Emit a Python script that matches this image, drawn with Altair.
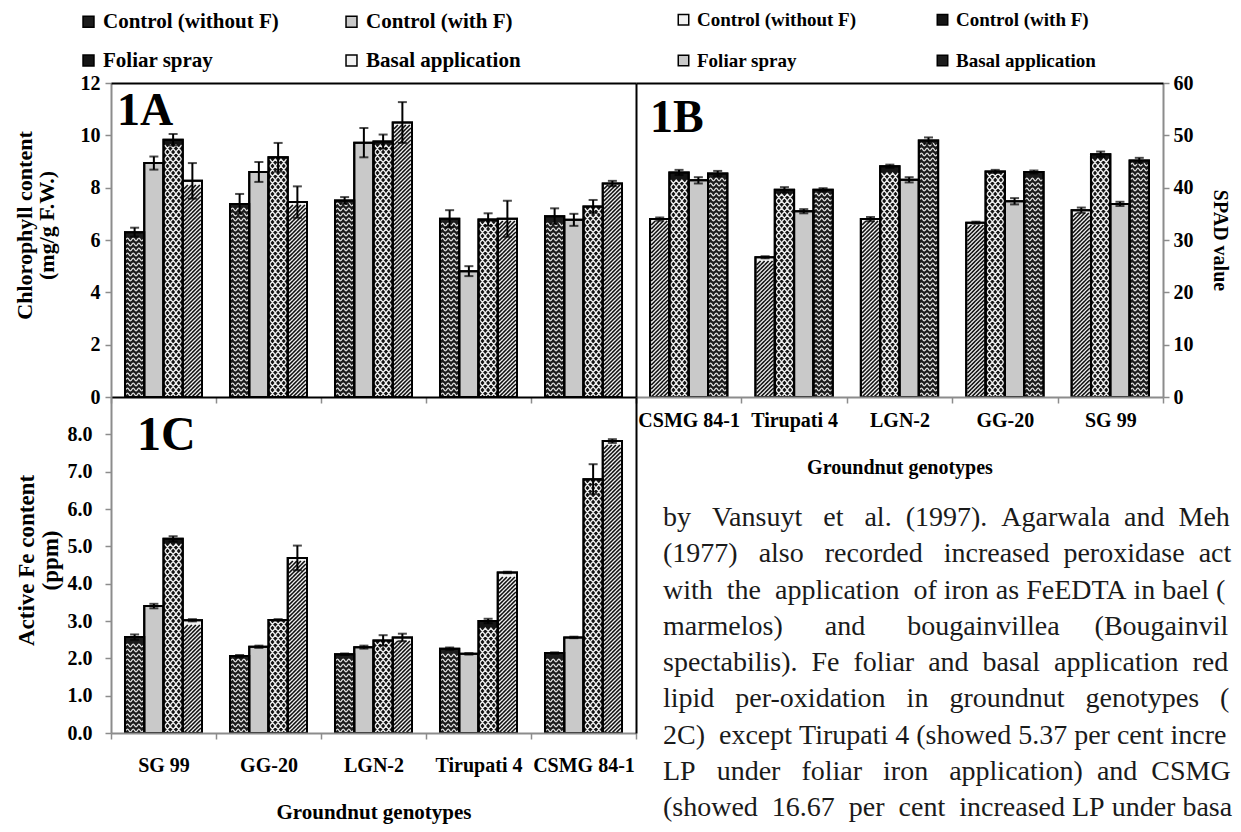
import altair as alt
import pandas as pd

# ---------------- data ----------------
genotypes_ac = ["SG 99", "GG-20", "LGN-2", "Tirupati 4", "CSMG 84-1"]
genotypes_b = ["CSMG 84-1", "Tirupati 4", "LGN-2", "GG-20", "SG 99"]
treatments = ["Control (without F)", "Control (with F)", "Foliar spray", "Basal application"]

# 1A chlorophyll content (mg/g F.W.), order = genotypes_ac
chl_ctrl_wo = [6.30, 7.38, 7.51, 6.81, 6.91]
chl_ctrl_w = [8.94, 8.60, 9.72, 4.81, 6.77]
chl_foliar = [9.83, 9.16, 9.76, 6.78, 7.28]
chl_basal = [8.26, 7.45, 10.49, 6.81, 8.16]
chl_ctrl_wo_err = [0.17, 0.38, 0.13, 0.33, 0.30]
chl_ctrl_w_err = [0.25, 0.38, 0.56, 0.19, 0.23]
chl_foliar_err = [0.22, 0.55, 0.27, 0.24, 0.25]
chl_basal_err = [0.68, 0.60, 0.78, 0.69, 0.10]

# 1B SPAD value, order = genotypes_b
spad_ctrl_wo = [34.0, 26.7, 34.0, 33.3, 35.7]
spad_ctrl_w = [42.9, 39.6, 44.1, 43.1, 46.4]
spad_foliar = [41.4, 35.5, 41.5, 37.4, 36.9]
spad_basal = [42.7, 39.6, 49.0, 43.0, 45.2]
spad_ctrl_wo_err = [0.3, 0.2, 0.4, 0.2, 0.5]
spad_ctrl_w_err = [0.5, 0.5, 0.3, 0.3, 0.5]
spad_foliar_err = [0.6, 0.4, 0.5, 0.6, 0.4]
spad_basal_err = [0.5, 0.3, 0.6, 0.3, 0.5]

# 1C active Fe content (ppm), order = genotypes_ac
fe_ctrl_wo = [2.57, 2.06, 2.11, 2.26, 2.14]
fe_ctrl_w = [3.40, 2.31, 2.30, 2.12, 2.56]
fe_foliar = [5.20, 3.03, 2.48, 3.00, 6.80]
fe_basal = [3.02, 4.69, 2.56, 4.30, 7.82]
fe_ctrl_wo_err = [0.07, 0.03, 0.02, 0.03, 0.02]
fe_ctrl_w_err = [0.06, 0.03, 0.04, 0.02, 0.02]
fe_foliar_err = [0.07, 0.02, 0.14, 0.06, 0.40]
fe_basal_err = [0.03, 0.33, 0.10, 0.02, 0.05]

tick_a = [0, 2, 4, 6, 8, 10, 12]
tick_b = [0, 10, 20, 30, 40, 50, 60]
tick_c = [0, 1, 2, 3, 4, 5, 6, 7, 8]

panel_labels = ["1A", "1B", "1C"]

paragraph = [
    "by Vansuyt et al. (1997). Agarwala and Meh",
    "(1977) also recorded increased peroxidase act",
    "with the application of iron as FeEDTA in bael (",
    "marmelos) and bougainvillea (Bougainvil",
    "spectabilis). Fe foliar and basal application red",
    "lipid per-oxidation in groundnut genotypes (",
    "2C) except Tirupati 4 (showed 5.37 per cent incre",
    "LP under foliar iron application) and CSMG",
    "(showed 16.67 per cent increased LP under basa",
]

# ---------------- styling ----------------
FONT = "Liberation Serif"
W, H = 1225, 816
GRAY = "#8c8c8c"

# hatch fills: each bar is tiled with rows of a custom symbol that spans the bar width
S = 17.0          # symbol side in px (inner bar width)
U = S / 2.0       # px per symbol unit


def wave_path(amp_px=1.4):
    c = 2 * amp_px / U
    return ("M-1,0 Q-0.8333,%.3f -0.6667,0 T-0.3333,0 T0,0 T0.3333,0 T0.6667,0 T1,0" % (-c))


def cross_path(row_px):
    a = row_px / 2 / U
    return ("M-1,{a}L-0.3333,-{a}L0.3333,{a}L1,-{a}"
            "M-1,-{a}L-0.3333,{a}L0.3333,-{a}L1,{a}").format(a="%.4f" % a)


def diag_path(row_px, gap_px):
    a = row_px / 2 / U
    p = gap_px / U
    parts = []
    x0 = -1 - 2 * a
    while x0 < 1:
        t0 = max(0.0, (-1 - x0) / (2 * a))
        t1 = min(1.0, (1 - x0) / (2 * a))
        if t1 - t0 > 1e-6:
            xa, ya = x0 + 2 * a * t0, a - 2 * a * t0
            xb, yb = x0 + 2 * a * t1, a - 2 * a * t1
            parts.append("M%.4f,%.4fL%.4f,%.4f" % (xa, ya, xb, yb))
        x0 += p
    return "".join(parts)


PATTERNS = {
    "wave": dict(base="#1c1c1c", shape=wave_path(), stroke="#e4e4e4", width=1.3, row=5.0),
    "dots": dict(base="#c9c9c9"),
    "cross": dict(base="#151515", shape=cross_path(7.0), stroke="#ededed", width=1.3, row=7.0),
    "diag": dict(base="#f2f2f2", shape=diag_path(4.0, 4.0), stroke="#111111", width=1.7, row=4.0),
}
patterns_ac = ["wave", "dots", "cross", "diag"]
patterns_b = ["diag", "cross", "dots", "wave"]

PARA_SIZE = 28
PARA_TARGET = 570  # justified line width in px

_w = {" ": .25, "(": .333, ")": .333, ".": .25, ",": .25, "-": .333}
_w.update({c: .5 for c in "0123456789bdghknopquvxy"})
_w.update({"a": .444, "c": .444, "e": .444, "z": .444, "f": .333, "r": .333, "i": .278,
           "j": .278, "l": .278, "t": .278, "m": .778, "s": .389, "w": .722})
_w.update({"A": .722, "B": .667, "C": .667, "D": .722, "E": .611, "F": .556, "G": .722,
           "L": .611, "M": .889, "P": .556, "S": .556, "T": .611, "V": .722})


def justify(line):
    """Widen word gaps with no-break spaces to imitate the justified column."""
    natural = sum(_w.get(c, .5) for c in line) * PARA_SIZE
    nbsp = 0.25 * PARA_SIZE
    words = line.split(" ")
    gaps = len(words) - 1
    extra = max(0, int((PARA_TARGET - natural) / nbsp))
    out = words[0]
    for i, wd in enumerate(words[1:]):
        k = extra // gaps + (1 if i < extra % gaps else 0)
        out += "\u00a0" * (1 + k) + wd
    return out


def make_df(genos, means, errs):
    rows = []
    for t, ms, es in zip(treatments, means, errs):
        for g, m, e in zip(genos, ms, es):
            rows.append({"genotype": g, "treatment": t, "value": m,
                         "lo": m - e, "hi": m + e})
    return pd.DataFrame(rows)


df_a = make_df(genotypes_ac, [chl_ctrl_wo, chl_ctrl_w, chl_foliar, chl_basal],
               [chl_ctrl_wo_err, chl_ctrl_w_err, chl_foliar_err, chl_basal_err])
df_b = make_df(genotypes_b, [spad_ctrl_wo, spad_ctrl_w, spad_foliar, spad_basal],
               [spad_ctrl_wo_err, spad_ctrl_w_err, spad_foliar_err, spad_basal_err])
df_c = make_df(genotypes_ac, [fe_ctrl_wo, fe_ctrl_w, fe_foliar, fe_basal],
               [fe_ctrl_wo_err, fe_ctrl_w_err, fe_foliar_err, fe_basal_err])


def hatch_rows(df, pats, ppu, name):
    """Centres (data units) of the hatch rows that fit inside each bar of one pattern."""
    r = PATTERNS[name]["row"]
    rows = []
    for _, b in df.iterrows():
        if pats[treatments.index(b["treatment"])] != name:
            continue
        h = b["value"] * ppu - 1.0
        k = 0
        while (k + 1) * r <= h:
            rows.append({"genotype": b["genotype"], "treatment": b["treatment"],
                         "row": (k + 0.5) * r / ppu})
            k += 1
    return pd.DataFrame(rows)


def frame_axis(orient, offset):
    return alt.Axis(orient=orient, offset=offset, labels=False, ticks=False,
                    domainColor="black", domainWidth=2, title=None, grid=False, zindex=2)


def panel(df, genos, xr, yr, ydom, pats, legend, x_main, y_main, x_frame, y_frame,
          label, label_y, label_dx, label_size):
    xs = alt.Scale(domain=genos, range=xr, paddingInner=0, paddingOuter=0)
    ys = alt.Scale(domain=ydom, range=yr, nice=False, zero=True)
    ppu = (yr[0] - yr[1]) / (ydom[1] - ydom[0])
    xo = alt.XOffset("treatment:N", sort=treatments,
                     scale=alt.Scale(domain=treatments, paddingInner=0, paddingOuter=0.727))
    xn = alt.X("genotype:N", sort=genos, scale=xs, axis=None)
    tones = [PATTERNS[p]["base"] for p in pats]
    bars = alt.Chart(df).mark_bar(stroke="black", strokeWidth=2).encode(
        x=alt.X("genotype:N", sort=genos, scale=xs, axis=x_main),
        xOffset=xo,
        y=alt.Y("value:Q", scale=ys, axis=y_main),
        fill=alt.Fill("treatment:N", sort=treatments,
                      scale=alt.Scale(domain=treatments, range=tones), legend=legend),
    )
    layers = [bars]
    for name in ["wave", "cross", "diag"]:
        if name not in pats:
            continue
        spec = PATTERNS[name]
        hdf = hatch_rows(df, pats, ppu, name)
        layers.append(alt.Chart(hdf).mark_point(
            shape=spec["shape"], size=S * S, filled=False, color=spec["stroke"],
            stroke=spec["stroke"], strokeWidth=spec["width"], opacity=1
        ).encode(x=xn, xOffset=xo, y=alt.Y("row:Q", scale=ys, axis=None)))
    outline = alt.Chart(df).mark_bar(stroke="black", strokeWidth=2, fillOpacity=0).encode(
        x=xn, xOffset=xo, y=alt.Y("value:Q", scale=ys, axis=None))
    rules = alt.Chart(df).mark_rule(color="black", strokeWidth=2).encode(
        x=xn, xOffset=xo, y=alt.Y("lo:Q", scale=ys, axis=None), y2="hi:Q")
    caps = alt.Chart(df).transform_fold(["lo", "hi"], as_=["end", "cap"]).mark_tick(
        color="black", thickness=2, size=9
    ).encode(
        x=alt.X("genotype:N", sort=genos, scale=xs, axis=x_frame),
        xOffset=xo,
        y=alt.Y("cap:Q", scale=ys, axis=y_frame),
    )
    lab_df = pd.DataFrame({"genotype": [genos[0]], "label": [label], "ypos": [label_y]})
    lab = alt.Chart(lab_df).mark_text(
        font=FONT, fontSize=label_size, fontWeight="bold", align="left",
        baseline="alphabetic", dx=label_dx, color="black"
    ).encode(
        x=alt.X("genotype:N", sort=genos, scale=xs, axis=None, bandPosition=0),
        y=alt.Y("ypos:Q", scale=ys, axis=None),
        text="label:N",
    )
    layers += [outline, rules, caps, lab]
    return alt.layer(*layers).resolve_axis(x="independent", y="independent")


axis_common = dict(domainColor=GRAY, domainWidth=2, tickColor=GRAY, tickWidth=1.5,
                   tickSize=6, labelFont=FONT, labelFontWeight="bold", labelFontSize=20,
                   labelColor="black", titleFont=FONT, titleFontWeight="bold",
                   titleColor="black", grid=False, zindex=1, labelAngle=0)

legend_a = alt.Legend(orient="none", legendX=70, legendY=3, columns=2, direction="horizontal",
                      columnPadding=62, rowPadding=17, symbolType="square", symbolSize=120,
                      symbolStrokeColor="black", symbolStrokeWidth=1.5,
                      labelFont=FONT, labelFontSize=21, labelFontWeight="bold",
                      labelColor="black", labelOffset=4, labelLimit=400, title=None, padding=0)
legend_b = alt.Legend(orient="none", legendX=666, legendY=2, columns=2, direction="horizontal",
                      columnPadding=76, rowPadding=21, symbolType="square", symbolSize=110,
                      symbolStrokeColor="black", symbolStrokeWidth=1.5,
                      labelFont=FONT, labelFontSize=19, labelFontWeight="bold",
                      labelColor="black", labelOffset=4, labelLimit=400, title=None, padding=0)

# Panel 1A
pA = panel(
    df_a, genotypes_ac, [103, 628], [389, 75], [0, 12], patterns_ac, legend_a,
    x_main=alt.Axis(orient="bottom", offset=-(H - 389), labels=False, title=None,
                    tickBand="extent", **{**axis_common, "domainColor": "black"}),
    y_main=alt.Axis(orient="left", offset=-103, values=tick_a, format="d", labelPadding=5,
                    title=["Chlorophyll content", "(mg/g F.W.)"], titleAngle=270,
                    titleX=-87, titleY=217, titleBaseline="middle", titleAlign="center",
                    titleFontSize=22, titleLineHeight=22, **axis_common),
    x_frame=frame_axis("top", -75), y_frame=None,
    label=panel_labels[0], label_y=10.4, label_dx=6, label_size=46,
)

# Panel 1B
pB = panel(
    df_b, genotypes_b, [628, 1155], [389, 75], [0, 60], patterns_b, legend_b,
    x_main=alt.Axis(orient="bottom", offset=-(H - 389), labelPadding=7,
                    title="Groundnut genotypes", titleX=891.5, titleY=70,
                    titleBaseline="middle", titleFontSize=20, tickBand="extent", **axis_common),
    y_main=alt.Axis(orient="right", offset=-(W - 1155), values=tick_b, format="d",
                    labelPadding=4, title="SPAD value", titleAngle=90, titleX=56, titleY=232,
                    titleBaseline="middle", titleAlign="center", titleFontSize=20,
                    **axis_common),
    x_frame=frame_axis("top", -75), y_frame=frame_axis("left", -628),
    label=panel_labels[1], label_y=50.6, label_dx=14, label_size=46,
)

# Panel 1C
pC = panel(
    df_c, genotypes_ac, [103, 628], [725, 389], [0, 9], patterns_ac, None,
    x_main=alt.Axis(orient="bottom", offset=-(H - 725), labelPadding=16,
                    title="Groundnut genotypes", titleX=365.5, titleY=79,
                    titleBaseline="middle", titleFontSize=21, tickBand="extent", **axis_common),
    y_main=alt.Axis(orient="left", offset=-103, values=tick_c, format=".1f", labelPadding=13,
                    title=["Active Fe content", "(ppm)"], titleAngle=270, titleX=-85,
                    titleY=552, titleBaseline="middle", titleAlign="center",
                    titleFontSize=23, titleLineHeight=24, **axis_common),
    x_frame=None, y_frame=frame_axis("right", -(W - 628)),
    label=panel_labels[2], label_y=7.58, label_dx=26, label_size=48,
)

# Running text beside the figure
para_df = pd.DataFrame({"line": list(range(len(paragraph))),
                        "text": [justify(s) for s in paragraph]})
para = alt.Chart(para_df).mark_text(
    font=FONT, fontSize=PARA_SIZE, align="left", baseline="middle", color="#1a1a1a"
).encode(
    x=alt.value(655),
    y=alt.Y("line:Q", scale=alt.Scale(domain=[0, 8], range=[510, 800]), axis=None),
    text="text:N",
)

chart = alt.layer(pA, pB, pC, para).resolve_scale(
    x="independent", y="independent", xOffset="independent", fill="independent"
).properties(
    width=W, height=H, autosize=alt.AutoSizeParams(type="none"), padding=0
).configure_view(stroke=None)

chart.save("out.html", embed_options={"renderer": "svg", "actions": False})
